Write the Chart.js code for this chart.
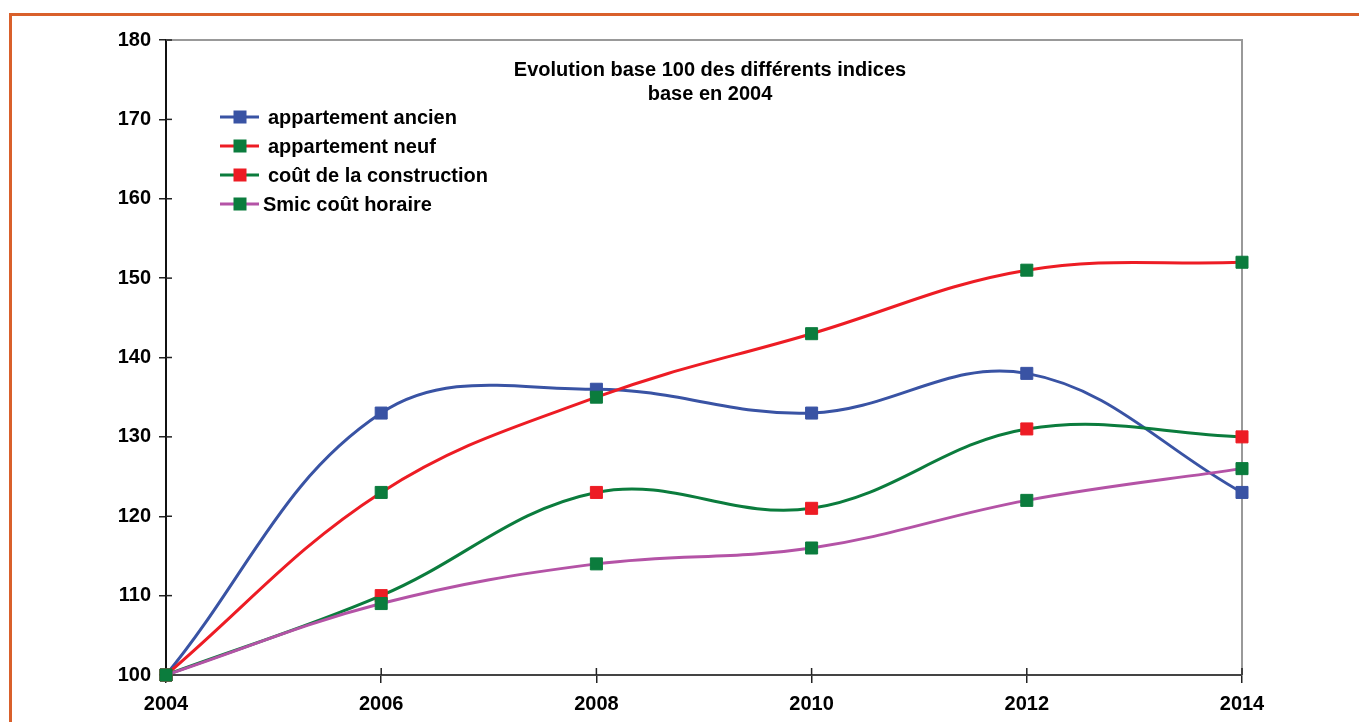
<!DOCTYPE html>
<html><head><meta charset="utf-8">
<script src="https://cdn.jsdelivr.net/npm/chart.js@4.4.1/dist/chart.umd.min.js"></script>
<style>
html,body{margin:0;padding:0;background:#fff;overflow:hidden}
#wrap{position:relative;width:1359px;height:722px}
#frame{position:absolute;left:9px;top:13px;width:1360px;height:720px;border-left:3px solid #d9602b;border-top:3px solid #d9602b;pointer-events:none}
canvas{display:block}
</style></head><body>
<div id="wrap"><canvas id="c" width="1359" height="722"></canvas><div id="frame"></div></div>
<script>
const years = ['2004','2006','2008','2010','2012','2014'];
const ancien = [100,133,136,133,138,123];
const neuf = [100,123,135,143,151,152];
const construction = [100,110,123,121,131,130];
const smic = [100,109,114,116,122,126];
const seriesNames = ['appartement ancien','appartement neuf','coût de la construction','Smic coût horaire'];
const titleLines = ['Evolution base 100 des différents indices','base en 2004'];
const yMin = 100, yMax = 180, yStep = 10;

const BLUE='#3953a4', RED='#ed1c24', GREEN='#0b7c3d', PURPLE='#b453a6';
const FONT = '"Liberation Sans", Arial, sans-serif';

function ds(label, data, line, mark, order){
  return {label, data, borderColor:line, backgroundColor:mark,
    pointBackgroundColor:mark, pointBorderColor:mark, pointBorderWidth:1,
    pointStyle:'rect', pointRadius:8.5, pointHoverRadius:8.5,
    borderWidth:3, tension:0.38, fill:false, clip:false, order};
}

const decor = {
  id:'decor',
  beforeDatasetsDraw(chart){
    const {ctx, chartArea:a} = chart;
    ctx.save();
    ctx.strokeStyle='#999'; ctx.lineWidth=2;
    ctx.beginPath();
    ctx.moveTo(a.left, a.top); ctx.lineTo(a.right, a.top); ctx.lineTo(a.right, a.bottom);
    ctx.stroke();
    ctx.strokeStyle='#222'; ctx.lineWidth=1.5;
    const ys = chart.scales.y, xs = chart.scales.x;
    ys.ticks.forEach((t,i)=>{const p=ys.getPixelForTick(i); ctx.beginPath(); ctx.moveTo(a.left,p); ctx.lineTo(a.left+6,p); ctx.stroke();});
    xs.ticks.forEach((t,i)=>{const p=xs.getPixelForTick(i); ctx.beginPath(); ctx.moveTo(p,a.bottom); ctx.lineTo(p,a.bottom-7); ctx.stroke();});
    ctx.restore();
  },
  afterDraw(chart){
    const {ctx, chartArea:a} = chart;
    ctx.save();
    ctx.fillStyle='#000';
    ctx.textAlign='center'; ctx.textBaseline='middle';
    ctx.font='bold 20px '+FONT;
    const cx = 710;
    titleLines.forEach((t,i)=>ctx.fillText(t, cx, 70 + i*24));
    ctx.textAlign='left';
    const rows=[117,146,175,204];
    const tx=[268,268,268,263];
    chart.data.datasets.forEach((d,i)=>{
      const y=rows[i];
      ctx.strokeStyle=d.borderColor; ctx.lineWidth=3;
      ctx.beginPath(); ctx.moveTo(220,y); ctx.lineTo(259,y); ctx.stroke();
      ctx.fillStyle=d.pointBackgroundColor;
      ctx.fillRect(233.5,y-6.5,13,13);
      ctx.fillStyle='#000';
      ctx.fillText(seriesNames[i], tx[i], y+1);
    });
    ctx.restore();
  }
};

new Chart(document.getElementById('c'), {
  type:'line',
  data:{labels:years, datasets:[
    ds(seriesNames[0], ancien, BLUE, BLUE, 4),
    ds(seriesNames[1], neuf, RED, GREEN, 3),
    ds(seriesNames[2], construction, GREEN, RED, 2),
    ds(seriesNames[3], smic, PURPLE, GREEN, 1)
  ]},
  options:{
    responsive:false, devicePixelRatio:1, animation:false,
    layout:{padding:{top:40, right:117, left:0, bottom:0}},
    plugins:{legend:{display:false}, title:{display:false}, tooltip:{enabled:false}},
    scales:{
      x:{type:'category', offset:false,
        grid:{display:true, drawOnChartArea:false, drawTicks:true, tickLength:8, color:'#222', lineWidth:1.5},
        border:{display:true, color:'#444', width:2},
        ticks:{color:'#000', font:{family:FONT, size:20, weight:'bold'}, padding:9, maxRotation:0, autoSkip:false},
        afterFit(s){ s.height = 47; }
      },
      y:{min:yMin, max:yMax,
        grid:{display:true, drawOnChartArea:false, drawTicks:true, tickLength:7, color:'#222', lineWidth:1.5},
        border:{display:true, color:'#111', width:2},
        ticks:{stepSize:yStep, color:'#000', font:{family:FONT, size:20, weight:'bold'}, padding:8},
        afterFit(s){ s.width = 166; }
      }
    }
  },
  plugins:[decor]
});
</script>
</body></html>
